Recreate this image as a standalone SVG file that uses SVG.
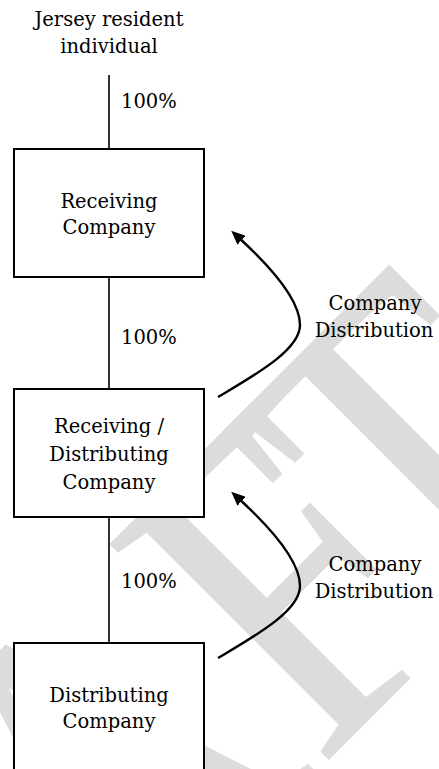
<svg xmlns="http://www.w3.org/2000/svg" width="439" height="769" viewBox="0 0 439 769">
  <defs>
    <style>
      .label { font-family: "DejaVu Serif", "Liberation Serif", serif; font-size: 19.5px; fill: #000; }
      .mid { text-anchor: middle; }
      .box { fill: #fff; stroke: #000; stroke-width: 2; }
      .link { fill: none; stroke: #000; stroke-width: 1.6; }
      .flow { fill: none; stroke: #000; stroke-width: 2.4; marker-end: url(#arrowhead); }
      .watermark { font-family: "Liberation Serif", "Times New Roman", serif; font-size: 470px; fill: #dcdcdc; }
    </style>
    <marker id="arrowhead" viewBox="0 0 14 12" refX="4" refY="6" markerWidth="14" markerHeight="12" orient="auto" markerUnits="userSpaceOnUse">
      <path d="M0,0 L14,6 L0,12 z" fill="#000"/>
    </marker>
  </defs>

  <rect width="439" height="769" fill="#fff"/>

  <!-- background watermark -->
  <g id="watermark">
    <text class="watermark" transform="rotate(-45) scale(0.875,1)" x="108.6" y="770" text-anchor="end">DRAF<tspan dx="-75">T</tspan></text>
  </g>

  <!-- ownership lines and distribution arrows -->
  <g id="connectors">
    <line class="link" x1="109" y1="75" x2="109" y2="149"/>
    <line class="link" x1="109" y1="277" x2="109" y2="389"/>
    <line class="link" x1="109" y1="517" x2="109" y2="643"/>
    <text class="label" x="121" y="108">100%</text>
    <text class="label" x="121" y="344">100%</text>
    <text class="label" x="121" y="588">100%</text>

    <g id="distribution-upper">
      <path class="flow" d="M218,397 C255,375 300,350 300,325 C300,300 272,268 238.6,237.5"/>
      <text class="label mid" x="375" y="310">Company</text>
      <text class="label mid" x="374" y="337">Distribution</text>
    </g>
    <g id="distribution-lower" transform="translate(0,261)">
      <path class="flow" d="M218,397 C255,375 300,350 300,325 C300,300 272,268 238.6,237.5"/>
      <text class="label mid" x="375" y="310">Company</text>
      <text class="label mid" x="374" y="337">Distribution</text>
    </g>
  </g>

  <!-- entities -->
  <g id="individual">
    <text class="label mid" x="109" y="26">Jersey resident</text>
    <text class="label mid" x="109" y="53">individual</text>
  </g>

  <g id="receiving-company">
    <rect class="box" x="14" y="149" width="190" height="128"/>
    <text class="label mid" x="109" y="208">Receiving</text>
    <text class="label mid" x="109" y="234">Company</text>
  </g>

  <g id="receiving-distributing-company">
    <rect class="box" x="14" y="389" width="190" height="128"/>
    <text class="label mid" x="109" y="433">Receiving /</text>
    <text class="label mid" x="109" y="461">Distributing</text>
    <text class="label mid" x="109" y="489">Company</text>
  </g>

  <g id="distributing-company">
    <rect class="box" x="14" y="643" width="190" height="160"/>
    <text class="label mid" x="109" y="702">Distributing</text>
    <text class="label mid" x="109" y="728">Company</text>
  </g>
</svg>
